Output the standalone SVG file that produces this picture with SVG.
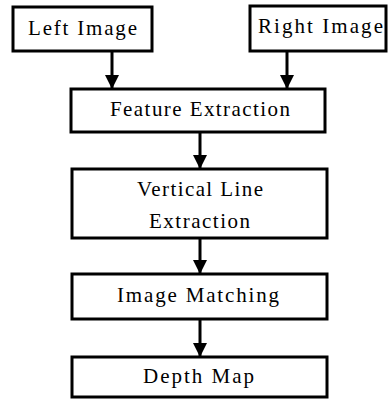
<svg xmlns="http://www.w3.org/2000/svg" width="390" height="399" viewBox="0 0 390 399">
<style>
.box{fill:#fff;stroke:#000;stroke-width:3}
.lbl{font-family:'Liberation Serif','DejaVu Serif','Times New Roman',serif;font-size:21px;fill:#000;text-anchor:middle}
.con{stroke:#000;stroke-width:3;fill:none}
</style>
<defs>
<marker id="ah" markerUnits="userSpaceOnUse" markerWidth="14" markerHeight="14" viewBox="0 0 14 14" refX="14" refY="7" orient="auto">
<path d="M0,0 L14,7 L0,14 Z" fill="#000"/>
</marker>
</defs>
<rect width="390" height="399" fill="#fff"/>
<g id="connectors">
<line class="con" x1="112" y1="52" x2="112" y2="89" marker-end="url(#ah)"/>
<line class="con" x1="287" y1="52" x2="287" y2="89" marker-end="url(#ah)"/>
<line class="con" x1="200" y1="132" x2="200" y2="169" marker-end="url(#ah)"/>
<line class="con" x1="200" y1="238" x2="200" y2="274" marker-end="url(#ah)"/>
<line class="con" x1="200" y1="319" x2="200" y2="357" marker-end="url(#ah)"/>
</g>
<g id="left-image">
<rect class="box" x="13" y="7" width="139" height="44"/>
<text class="lbl" font-family="Liberation Serif, serif" x="82.5" y="35" textLength="109" lengthAdjust="spacing">Left Image</text>
</g>
<g id="right-image">
<rect class="box" x="250" y="6" width="136" height="45"/>
<text class="lbl" x="320.5" y="33" textLength="125" lengthAdjust="spacing">Right Image</text>
</g>
<g id="feature-extraction">
<rect class="box" x="71" y="89" width="254" height="43"/>
<text class="lbl" x="200" y="116" textLength="180" lengthAdjust="spacing">Feature Extraction</text>
</g>
<g id="vertical-line-extraction">
<rect class="box" x="72" y="169" width="255" height="69"/>
<text class="lbl" x="200" y="196" textLength="126" lengthAdjust="spacing">Vertical Line</text>
<text class="lbl" x="199.5" y="228" textLength="101" lengthAdjust="spacing">Extraction</text>
</g>
<g id="image-matching">
<rect class="box" x="72" y="274" width="255" height="45"/>
<text class="lbl" x="198" y="302" textLength="162" lengthAdjust="spacing">Image Matching</text>
</g>
<g id="depth-map">
<rect class="box" x="72" y="357" width="255" height="40"/>
<text class="lbl" x="198.5" y="383" textLength="111" lengthAdjust="spacing">Depth Map</text>
</g>
</svg>
